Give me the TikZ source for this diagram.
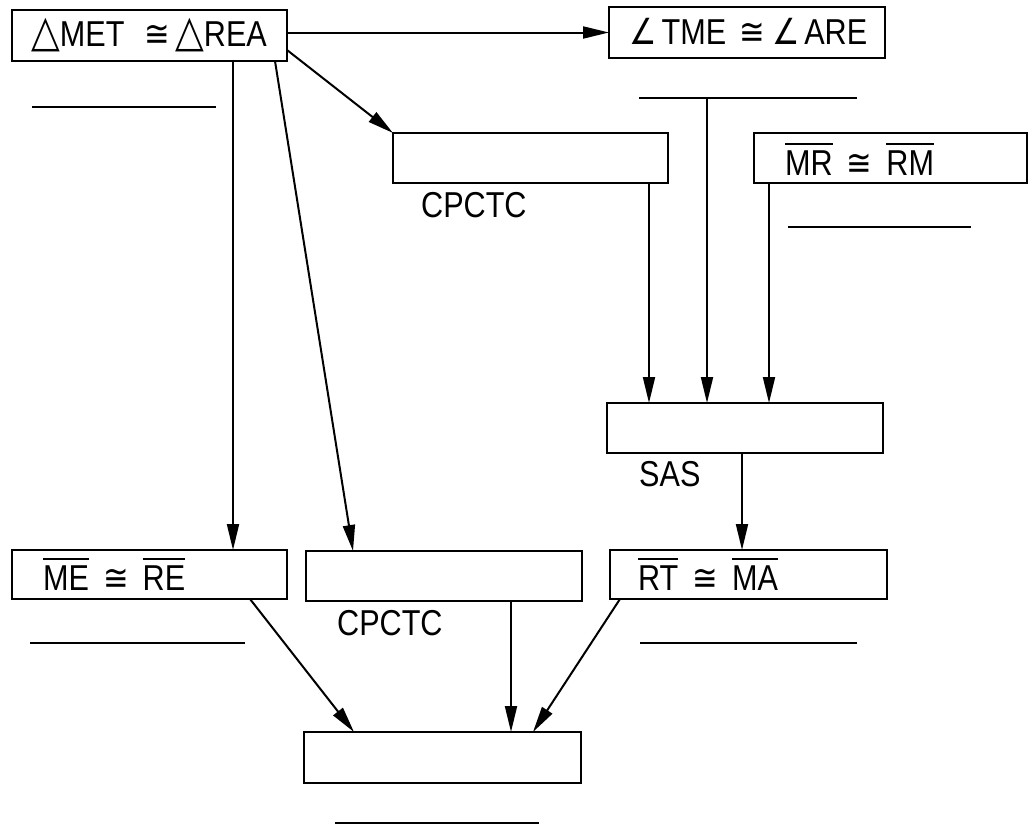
\documentclass[tikz,border=0pt]{standalone}
\usepackage{fontspec}
\setmainfont{Liberation Sans}[FakeStretch=0.85]
\newfontfamily\symfont{DejaVu Sans}[FakeStretch=0.85]
\usetikzlibrary{arrows.meta}

% segment with a bar over it
\newcommand\seg[1]{\vbox{\hrule height 2.2pt\kern 5pt\hbox{#1}}}
\newcommand\congto{{\symfont ≅}}
\newcommand\trisym{{\fontsize{44}{44}\symfont △}}
\newcommand\angsym{{\symfont ∠}}
\newcommand\segcong[2]{\seg{#1}\hspace{14pt}\congto\hspace{14pt}\seg{#2}}

\begin{document}
\begin{tikzpicture}[x=1pt,y=-1pt,
  box/.style={draw, line width=2.6pt, rectangle, anchor=north west, outer sep=0pt, inner sep=0pt},
  txt/.style={anchor=base west, inner sep=0pt, font=\fontsize{36}{42}\selectfont},
  arr/.style={line width=2pt, -{Triangle[length=26pt,width=12pt]}},
  blank/.style={line width=2pt}]
\useasboundingbox (0,0) rectangle (1029,830);

% statement boxes
\node[box, minimum width=275pt, minimum height=51pt] (tri) at (12,10) {};
\node[box, minimum width=276pt, minimum height=51pt] (ang) at (609,7) {};
\node[box, minimum width=275pt, minimum height=50pt] (cp1) at (393,133) {};
\node[box, minimum width=273pt, minimum height=50pt] (mr)  at (754,133) {};
\node[box, minimum width=276pt, minimum height=50pt] (sas) at (607,403) {};
\node[box, minimum width=275pt, minimum height=49pt] (me)  at (12,550) {};
\node[box, minimum width=276pt, minimum height=50pt] (cp2) at (306,551) {};
\node[box, minimum width=277pt, minimum height=49pt] (rt)  at (610,550) {};
\node[box, minimum width=277pt, minimum height=51pt] (fin) at (304,732) {};

% statements and reasons
\node[txt] (ttri) at (31,46) {\trisym MET\hspace{20pt}\congto\hspace{5pt}\trisym REA};
\node[txt] (tang) at (629,44) {\angsym\hspace{5pt}TME\hspace{13pt}\congto\hspace{8pt}\angsym\hspace{4pt}ARE};
\node[txt] (tmr)  at (785,175) {\segcong{MR}{RM}};
\node[txt] (tme)  at (43,590) {\segcong{ME}{RE}};
\node[txt] (trt)  at (638,590) {\segcong{RT}{MA}};
\node[txt] (r1) at (421,217) {CPCTC};
\node[txt] (r2) at (639,486) {SAS};
\node[txt] (r3) at (337,635) {CPCTC};

% blanks for reasons
\draw[blank] (32,107) -- (216,107);
\draw[blank] (639,98) -- (857,98);
\draw[blank] (788,227) -- (971,227);
\draw[blank] (30,643) -- (245,643);
\draw[blank] (640,643) -- (857,643);
\draw[blank] (335,823) -- (539,823);

% connectors
\coordinate (a3) at ([xshift=221pt]tri.south west);
\coordinate (a4) at ([xshift=263pt]tri.south west);
\coordinate (a5) at ([xshift=256pt]cp1.south west);
\coordinate (a6) at (707,99);
\coordinate (a7) at ([xshift=15pt]mr.south west);
\coordinate (a8) at ([xshift=135pt]sas.south west);
\coordinate (a10) at ([xshift=205pt]cp2.south west);

\draw[arr] (tri.east |- ang.west) -- (ang.west);
\draw[arr] ([yshift=11pt]tri.south east) -- (cp1.north west);
\draw[arr] (a3) -- (a3 |- me.north);
\draw[arr] (a4) -- ([xshift=47pt]cp2.north west);
\draw[arr] (a5) -- (a5 |- sas.north);
\draw[arr] (a6) -- (a6 |- sas.north);
\draw[arr] (a7) -- (a7 |- sas.north);
\draw[arr] (a8) -- (a8 |- rt.north);
\draw[arr] ([xshift=238pt]me.south west) -- ([xshift=50pt]fin.north west);
\draw[arr] (a10) -- (a10 |- fin.north);
\draw[arr] ([xshift=10pt]rt.south west) -- ([xshift=229pt]fin.north west);
\end{tikzpicture}
\end{document}
